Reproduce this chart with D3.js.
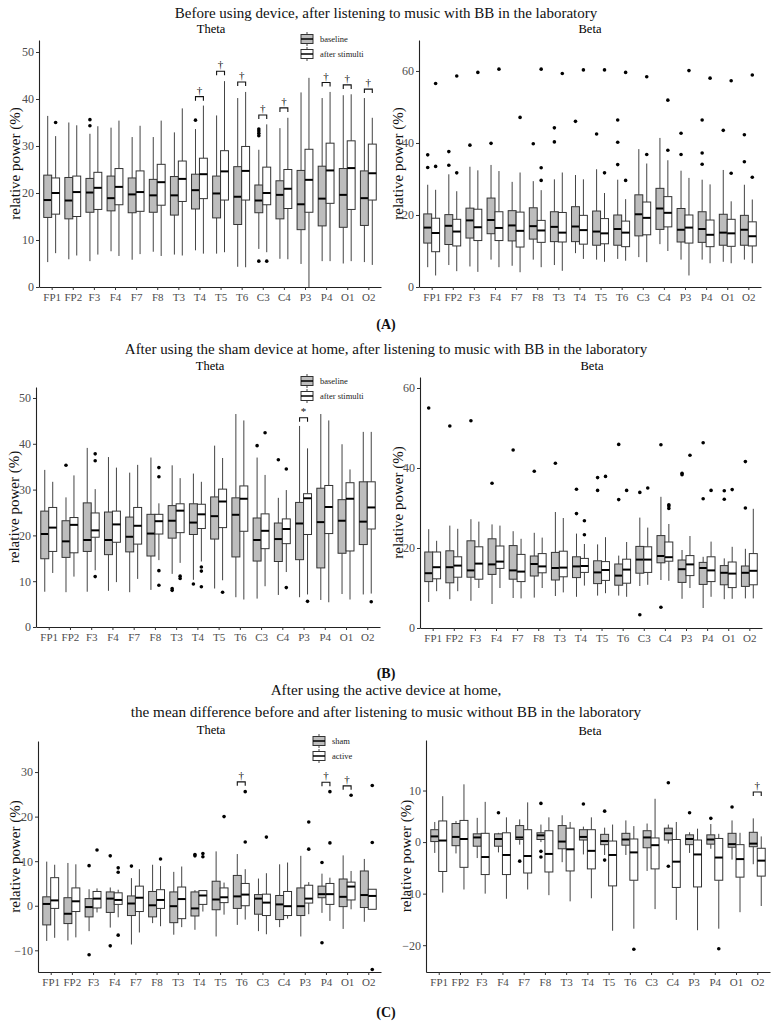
<!DOCTYPE html>
<html><head><meta charset="utf-8">
<script src="https://cdn.jsdelivr.net/npm/d3@7"></script>
<style>body{margin:0;background:#fff}svg{display:block}text{font-family:"Liberation Serif","Times New Roman",serif}</style>
</head><body>
<svg id="c" width="773" height="1029"></svg>
<script>
const electrodes = ["FP1","FP2","F3","F4","F7","F8","T3","T4","T5","T6","C3","C4","P3","P4","O1","O2"];
// each row: [lowerWhisker, q1, median, q3, upperWhisker, [outliers]]
const A_theta_base = [[5.3,14.8,18.5,23.8,36.4,[]],[5.9,14.5,18.4,23.3,35.0,[]],[5.5,15.9,20.1,23.1,32.6,[34.3,35.6]],[7.6,16.2,18.9,23.6,33.9,[]],[5.8,15.8,19.7,23.2,31.9,[]],[7.5,15.9,19.5,22.9,31.9,[]],[6.9,15.3,19.5,23.5,32.9,[]],[7.8,16.6,20.6,24.0,33.6,[35.5]],[7.1,14.7,19.9,23.6,36.5,[]],[4.3,13.3,19.2,25.6,40.2,[]],[8.1,15.8,18.4,21.7,29.2,[5.5,32.2,32.7,33.2,33.6]],[6.0,14.5,19.6,22.6,33.8,[]],[4.9,12.2,17.6,24.8,41.4,[]],[5.5,13.0,18.8,25.7,40.2,[]],[5.0,12.7,19.6,25.2,40.8,[]],[5.3,13.1,18.9,24.7,40.2,[]]];
const A_theta_after = [[7.2,15.5,20.0,23.2,32.1,[35.0]],[6.7,15.0,20.2,23.6,34.4,[]],[6.9,16.5,21.1,24.4,34.2,[]],[6.6,17.5,21.3,25.2,35.4,[]],[7.0,16.1,20.2,24.7,34.3,[]],[6.6,17.4,22.3,26.1,35.4,[]],[6.7,18.2,23.0,26.8,38.0,[]],[7.1,18.8,24.0,27.4,38.6,[]],[7.4,18.5,24.6,29.0,43.8,[]],[4.2,18.5,24.7,29.9,41.5,[]],[7.4,17.5,20.0,25.5,34.6,[5.5]],[5.9,16.7,20.9,25.0,36.0,[]],[0.0,15.9,22.8,29.3,44.5,[]],[5.5,17.8,24.8,30.6,41.5,[]],[5.5,16.5,25.3,31.1,41.0,[]],[4.7,18.5,24.2,30.4,36.0,[]]];
const A_theta_sig = [["T4",40.5,"†"],["T5",45.9,"†"],["T6",43.6,"†"],["C3",36.6,"†"],["C4",38.1,"†"],["P4",43.5,"†"],["O1",43.0,"†"],["O2",42.1,"†"]];

const A_beta_base = [[5.5,12.2,16.5,20.3,28.4,[33.2,36.7]],[6.1,11.8,17.0,20.1,31.3,[33.8,37.6]],[5.7,13.6,18.5,21.9,33.4,[39.4]],[7.6,14.8,18.6,24.7,33.9,[39.9]],[5.9,12.8,17.1,21.2,29.2,[]],[7.6,13.3,16.9,22.0,29.4,[39.8]],[6.1,12.6,16.7,20.9,29.9,[40.3,44.2]],[9.4,12.6,16.8,22.3,31.1,[46.0]],[7.6,11.6,15.4,21.1,32.7,[42.5]],[7.8,11.6,16.1,20.0,29.8,[34.0,40.2,46.4]],[8.3,14.2,20.2,25.6,38.3,[]],[11.9,16.0,21.8,27.4,41.4,[]],[7.6,12.5,15.9,21.8,32.3,[36.8,42.7]],[7.6,12.4,16.1,20.9,29.8,[34.1,37.2,46.4]],[7.0,11.6,15.1,20.2,32.5,[43.5]],[7.6,11.6,15.9,19.9,28.4,[34.8,42.3]]];
const A_beta_after = [[3.2,9.8,15.0,19.1,27.0,[33.5,56.5]],[4.4,11.4,15.4,18.8,26.6,[31.7,58.6]],[4.2,12.9,16.6,21.6,32.4,[59.6]],[5.5,12.9,16.4,20.9,32.2,[60.5]],[4.1,11.1,15.6,20.8,31.8,[47.1]],[5.5,12.4,15.7,18.5,26.9,[29.6,33.1,60.5]],[4.5,12.5,15.1,20.7,31.8,[59.3]],[7.8,11.9,15.8,19.9,29.9,[60.3]],[7.0,12.0,14.9,19.0,26.1,[31.7,60.3]],[7.3,11.2,15.1,18.3,24.4,[29.6,59.6]],[6.9,14.5,19.2,23.6,34.3,[36.8,58.4]],[10.0,16.7,20.6,25.1,35.2,[38.0,51.9]],[3.2,12.2,16.5,20.0,30.3,[60.1]],[6.6,11.2,14.5,18.6,28.5,[58.0]],[6.6,11.3,14.9,18.8,23.8,[31.6,57.3]],[6.6,11.4,14.1,18.1,24.3,[30.5,58.9]]];

const B_theta_base = [[7.7,14.9,20.3,25.3,34.3,[]],[7.6,15.2,18.7,23.2,28.3,[35.3]],[7.7,16.5,19.0,27.1,39.1,[]],[7.9,15.8,19.0,25.1,37.1,[]],[7.6,16.4,19.7,24.0,33.7,[]],[8.1,15.5,20.4,24.6,37.0,[]],[11.6,19.4,23.2,26.5,35.3,[8.0,8.4]],[10.3,20.2,22.8,26.9,33.5,[9.4]],[8.4,19.2,24.2,28.4,39.6,[]],[6.5,15.3,24.5,28.2,46.5,[]],[6.2,14.4,19.0,23.8,37.0,[39.6]],[7.0,14.3,19.2,22.7,28.2,[36.5]],[6.5,14.7,22.6,27.2,43.9,[]],[5.9,12.9,22.9,30.3,46.5,[]],[7.2,16.1,23.2,27.8,39.9,[]],[7.1,18.0,23.0,31.7,42.6,[]]];
const B_theta_after = [[11.8,16.5,21.7,26.1,31.7,[]],[11.0,16.2,22.3,23.9,33.1,[]],[12.4,19.6,21.1,24.9,30.1,[11.0,36.3,37.8]],[9.8,18.5,22.4,25.3,34.8,[]],[10.5,18.1,22.1,26.1,35.4,[]],[14.6,20.3,23.1,24.6,27.0,[9.1,12.3,32.8,34.8]],[14.0,20.6,25.4,26.9,32.5,[10.6,11.1]],[14.3,21.5,24.6,26.8,31.7,[8.8,12.2,13.1]],[10.2,21.7,27.4,30.1,36.9,[7.6]],[6.0,20.9,28.0,30.8,45.1,[]],[8.9,17.1,21.0,24.7,33.2,[42.4]],[12.0,18.2,21.4,23.6,29.9,[8.6,34.5]],[7.1,20.2,28.1,29.1,39.0,[5.6]],[5.4,20.4,26.2,30.9,45.1,[]],[6.0,16.6,28.0,31.5,34.4,[]],[7.3,21.4,26.1,31.7,42.6,[5.5]]];
const B_theta_sig = [["P3",45.7,"*"]];

const B_beta_base = [[6.5,11.6,13.7,19.0,24.7,[55.0]],[7.2,11.3,15.2,19.3,25.6,[50.5]],[6.8,12.7,14.4,21.8,27.2,[51.8]],[6.0,13.4,15.9,22.3,25.9,[36.2]],[7.5,12.2,14.4,20.6,24.2,[44.5]],[7.6,13.0,16.0,18.0,23.8,[39.2]],[8.0,12.0,15.0,18.9,29.0,[41.2]],[7.8,12.6,15.4,17.8,23.6,[28.6,34.7]],[8.1,11.1,13.9,16.8,20.9,[34.4,37.6]],[8.1,10.7,13.1,16.0,18.1,[32.1,45.9]],[10.5,13.7,17.1,20.4,27.6,[3.3,33.9]],[12.0,16.3,18.0,23.1,32.8,[5.2,45.8]],[7.3,11.4,14.7,17.0,19.5,[38.3,38.7]],[5.0,10.9,15.0,16.4,17.8,[32.3,46.3]],[7.2,10.8,13.8,15.6,17.4,[32.2,34.3]],[7.4,10.4,13.8,15.5,19.8,[30.0,41.6]]];
const B_beta_after = [[9.2,12.3,15.2,19.0,21.8,[]],[9.2,12.7,15.6,17.8,24.8,[]],[10.0,12.2,16.1,20.3,26.6,[]],[10.0,14.9,16.6,20.5,25.6,[]],[7.4,11.6,14.1,18.4,22.3,[]],[10.0,13.8,15.4,18.6,22.6,[]],[8.9,12.8,15.1,19.2,27.5,[]],[10.6,13.9,15.5,17.4,21.0,[23.3,26.8]],[8.7,11.9,14.5,16.6,22.7,[37.9]],[7.8,11.2,14.6,17.2,21.5,[34.4]],[10.8,13.9,17.1,20.3,25.1,[35.0]],[11.8,16.7,17.7,21.5,26.0,[29.9,30.5,30.8]],[10.0,13.1,15.9,18.1,23.0,[43.2]],[7.8,11.6,14.4,17.8,21.6,[34.4]],[7.3,10.1,13.6,16.5,20.3,[34.6]],[7.4,10.8,14.3,18.6,29.8,[]]];

const C_theta_sham = [[-7.9,-4.3,0.4,2.0,9.9,[]],[-7.8,-4.0,-1.8,1.8,9.6,[]],[-5.7,-2.5,-0.3,1.6,3.7,[-11.0,9.0]],[-4.9,-1.5,1.6,3.1,4.1,[-9.0,11.2]],[-8.7,-2.2,0.5,2.2,6.2,[8.9]],[-3.9,-2.5,0.1,3.2,9.2,[]],[-6.5,-3.8,-0.1,3.1,7.6,[]],[-5.4,-2.3,-0.6,3.1,3.5,[11.2,11.5]],[-6.9,-0.9,1.4,5.5,12.2,[]],[-4.3,-0.6,2.1,6.8,11.6,[]],[-5.7,-1.9,1.6,2.5,6.1,[]],[-4.8,-3.1,0.3,2.3,9.3,[]],[-6.9,-2.2,-0.1,4.0,11.2,[]],[-1.6,1.8,2.6,4.4,7.2,[-8.3,9.7]],[-5.2,-0.2,2.0,6.0,11.3,[]],[-3.6,-0.4,2.4,7.8,10.5,[]]];
const C_theta_active = [[-7.2,-0.6,1.2,6.3,9.2,[]],[-7.1,-1.3,1.0,4.0,9.3,[]],[-1.5,-0.5,1.6,3.2,3.9,[12.5]],[-2.6,0.3,1.3,2.9,3.6,[-6.6,7.5,8.5]],[-6.0,-1.3,1.8,4.4,8.2,[]],[-4.6,-0.6,1.3,3.6,8.9,[10.5]],[-4.8,-2.9,1.5,4.2,8.8,[]],[-1.3,0.3,2.3,3.4,3.5,[11.0,11.7]],[-2.0,0.7,1.9,4.0,5.2,[20.0]],[-3.1,0.0,2.5,5.0,8.2,[14.3,25.6]],[-6.4,-2.2,0.7,2.6,7.3,[15.4]],[-2.9,-2.2,-0.1,3.2,9.7,[]],[-1.9,0.6,1.6,4.6,5.3,[12.7,18.8]],[-3.4,0.3,2.6,5.0,6.3,[14.1,25.6]],[-0.8,1.3,4.3,5.3,7.8,[24.8]],[-0.8,-0.8,2.2,3.7,3.7,[-14.3,14.2,27.0]]];
const C_theta_sig = [["T6",27.8,"†"],["P4",27.7,"†"],["O1",26.9,"†"]];

const C_beta_sham = [[-2.1,0.1,1.1,2.4,3.9,[]],[-2.2,-0.7,1.0,3.6,4.1,[]],[-3.1,-0.8,0.9,1.6,4.7,[]],[-2.0,-0.8,0.6,1.6,1.8,[5.7]],[-0.5,0.5,0.9,3.2,4.4,[-3.7]],[0.0,0.5,1.3,1.8,3.4,[-1.8,-2.9,7.5]],[-3.9,-1.3,0.1,3.2,5.2,[]],[-2.4,0.4,1.0,2.4,3.0,[7.4]],[-2.5,-0.5,0.2,1.5,2.8,[-3.5,6.0]],[-2.5,-0.6,0.5,1.7,4.2,[]],[-5.6,-1.1,0.9,2.2,3.6,[]],[-0.3,0.4,1.7,2.7,3.4,[-4.7,11.5]],[-2.1,-0.5,0.6,1.4,1.9,[5.7]],[-1.3,-0.4,0.5,1.4,3.5,[4.6]],[-3.4,-1.0,-0.4,1.7,4.2,[6.8]],[-4.3,-0.9,-0.3,1.9,4.6,[]]];
const C_beta_active = [[-9.8,-5.7,0.3,4.1,8.9,[]],[-9.2,-4.9,0.6,4.2,11.2,[]],[-10.0,-6.3,-2.9,1.7,7.8,[]],[-11.0,-6.3,-2.5,1.8,4.8,[]],[-9.2,-6.0,-2.7,2.4,7.7,[]],[-10.3,-5.8,-2.3,2.2,4.8,[]],[-11.5,-5.6,-1.4,2.7,3.9,[]],[-10.9,-5.2,-1.7,2.4,4.8,[]],[-17.2,-8.5,-2.5,0.2,3.4,[]],[-16.8,-7.4,-2.0,0.6,3.1,[-20.8]],[-13.0,-5.2,-0.6,0.8,8.4,[]],[-15.1,-8.8,-3.8,0.5,3.9,[]],[-17.1,-8.7,-2.4,0.4,2.6,[]],[-16.8,-7.4,-3.0,0.7,1.6,[-20.7]],[-13.6,-6.8,-3.3,-0.5,1.8,[]],[-12.4,-6.6,-3.6,-1.2,1.1,[]]];
const C_beta_sig = [["O2",9.7,"†"]];

const yTicksA_theta = [0,10,20,30,40,50];
const yTicksA_beta = [0,20,40,60];
const yTicksB_theta = [0,10,20,30,40,50];
const yTicksB_beta = [0,20,40,60];
const yTicksC_theta = [-10,0,10,20,30];
const yTicksC_beta = [-20,-10,0,10];

const FONT = "'Liberation Serif', 'Times New Roman', serif";
const svg = d3.select("#c");
const GRAY = "#bdbdbd", STROKE = "#333";

function drawPanel(p){
  const g = svg.append("g");
  const x = d3.scalePoint().domain(electrodes).range([p.x0, p.x1]).padding(0.6);
  const y = d3.scaleLinear().domain(p.dom).range([p.yb, p.yt]);
  const bw = x.step()*0.375;
  const ax = g.append("g").attr("transform",`translate(0,${p.yb})`).call(d3.axisBottom(x).tickSize(3).tickSizeOuter(0));
  const ay = g.append("g").attr("transform",`translate(${p.x0},0)`).call(d3.axisLeft(y).tickValues(p.ticks).tickSize(3).tickSizeOuter(0).tickFormat(d=>d<0?"\u2212"+(-d):d));
  [ax,ay].forEach(a=>{
    a.attr("font-family",FONT).attr("font-size",null);
    a.select(".domain").attr("stroke","#222").attr("stroke-width",1.1);
    a.selectAll(".tick line").attr("stroke","#333");
    a.selectAll(".tick text").attr("fill","#4d4d4d").style("font-family",FONT);
  });
  ax.selectAll(".tick text").style("font-size","11px").attr("dy","0.85em").attr("y",5);
  ay.selectAll(".tick text").style("font-size","12px").attr("x",-5);
  g.append("text").attr("transform",`translate(${p.ylx},${(p.yb+p.yt)/2}) rotate(-90)`)
    .attr("text-anchor","middle").attr("dy","0.35em").style("font-size","15px").style("font-family",FONT).attr("fill","#111").text("relative power (%)");
  g.append("text").attr("x",p.tx).attr("y",p.ty).attr("text-anchor","middle").style("font-size","12.5px").style("font-family",FONT).text(p.title);
  [p.a, p.b].forEach((arr, gi)=>{
    arr.forEach((r, i)=>{
      const cx = x(electrodes[i]) + (gi===0 ? -bw/2 : bw/2);
      const bg = g.append("g");
      bg.append("line").attr("x1",cx).attr("x2",cx).attr("y1",y(r[4])).attr("y2",y(r[3])).attr("stroke","#444").attr("stroke-width",1);
      bg.append("line").attr("x1",cx).attr("x2",cx).attr("y1",y(r[1])).attr("y2",y(r[0])).attr("stroke","#444").attr("stroke-width",1);
      bg.append("rect").attr("x",cx-bw/2).attr("width",bw).attr("y",y(r[3])).attr("height",Math.max(0.5,y(r[1])-y(r[3])))
        .attr("fill",gi===0?GRAY:"#fff").attr("stroke",STROKE).attr("stroke-width",1);
      bg.append("line").attr("x1",cx-bw/2).attr("x2",cx+bw/2).attr("y1",y(r[2])).attr("y2",y(r[2])).attr("stroke","#000").attr("stroke-width",2);
      r[5].forEach(o=>bg.append("circle").attr("cx",cx).attr("cy",y(o)).attr("r",1.8).attr("fill","#000"));
    });
  });
  (p.sig||[]).forEach(s=>{
    const c = x(s[0]), yy = y(s[1]);
    g.append("path").attr("d",`M${c-bw/2},${yy+4}V${yy}H${c+bw/2}V${yy+4}`).attr("fill","none").attr("stroke","#111").attr("stroke-width",1.1);
    g.append("text").attr("x",c).attr("y",yy-3).attr("text-anchor","middle").style("font-size","11px").style("font-family",FONT).attr("fill","#111").text(s[2]);
  });
  if(p.leg){
    p.leg.labels.forEach((lab,i)=>{
      const ly = p.leg.y + i*15, lx = p.leg.x;
      g.append("line").attr("x1",lx+6).attr("x2",lx+6).attr("y1",ly-7).attr("y2",ly+7).attr("stroke","#444");
      g.append("rect").attr("x",lx).attr("y",ly-4.5).attr("width",12).attr("height",9).attr("fill",i===0?GRAY:"#fff").attr("stroke",STROKE);
      g.append("line").attr("x1",lx).attr("x2",lx+12).attr("y1",ly).attr("y2",ly).attr("stroke","#000").attr("stroke-width",1.5);
      g.append("text").attr("x",lx+19).attr("y",ly).attr("dy","0.35em").style("font-size","8.5px").style("font-family",FONT).attr("fill","#222").text(lab);
    });
  }
}

drawPanel({x0:39,x1:381,yb:287,yt:40,dom:[0,52.55],ticks:yTicksA_theta,a:A_theta_base,b:A_theta_after,sig:A_theta_sig,ylx:15,tx:211,ty:33,title:"Theta",leg:{x:301,y:39,labels:["baseline","after stimulti"]}});
drawPanel({x0:419,x1:761,yb:287,yt:40,dom:[0,68.6],ticks:yTicksA_beta,a:A_beta_base,b:A_beta_after,ylx:398,tx:590,ty:33,title:"Beta"});
drawPanel({x0:36,x1:380,yb:627,yt:387,dom:[0,52.4],ticks:yTicksB_theta,a:B_theta_base,b:B_theta_after,sig:B_theta_sig,ylx:14,tx:210,ty:370,title:"Theta",leg:{x:301,y:381,labels:["baseline","after stimulti"]}});
drawPanel({x0:420,x1:762,yb:628,yt:377,dom:[0,62.75],ticks:yTicksB_beta,a:B_beta_base,b:B_beta_after,ylx:398,tx:592,ty:370,title:"Beta"});
drawPanel({x0:38,x1:381,yb:972,yt:741,dom:[-14.87,36.97],ticks:yTicksC_theta,a:C_theta_sham,b:C_theta_active,sig:C_theta_sig,ylx:15,tx:211,ty:734,title:"Theta",leg:{x:313,y:741,labels:["sham","active"]}});
drawPanel({x0:426,x1:770,yb:972,yt:740,dom:[-25.2,19.8],ticks:yTicksC_beta,a:C_beta_sham,b:C_beta_active,sig:C_beta_sig,ylx:406,tx:590,ty:735,title:"Beta"});

const T = [
  ["Before using device, after listening to music with BB in the laboratory",386,18,15,"normal"],
  ["(A)",386,329,14,"bold"],
  ["After using the sham device at home, after listening to music with BB in the laboratory",386,354,15,"normal"],
  ["(B)",386,678,14,"bold"],
  ["After using the active device at home,",386,695,15.2,"normal"],
  ["the mean difference before and after listening to music without BB in the laboratory",386,717,15.2,"normal"],
  ["(C)",386,1017,14,"bold"]
];
T.forEach(t=>svg.append("text").attr("x",t[1]).attr("y",t[2]).attr("text-anchor","middle").style("font-size",t[3]+"px").style("font-weight",t[4]).style("font-family",FONT).attr("fill","#111").text(t[0]));
</script>
</body></html>
